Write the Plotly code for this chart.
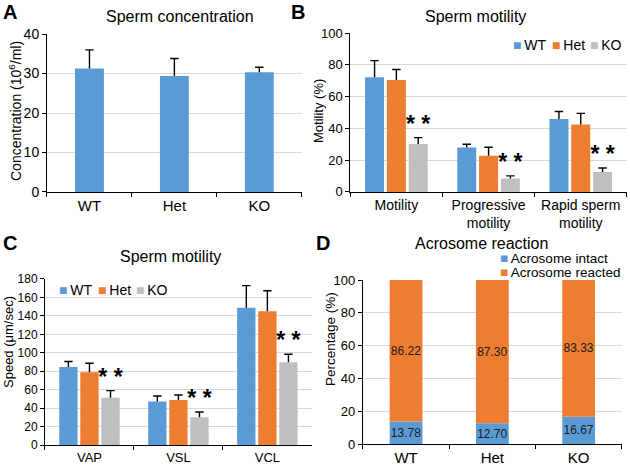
import plotly.graph_objects as go

# ---------------- data ----------------
groups = ["WT", "Het", "KO"]

conc_mean = [31.3, 29.4, 30.3]
conc_err = [4.7, 4.4, 1.3]

motility_cats = ["Motility", "Progressive<br>motility", "Rapid sperm<br>motility"]
motility_wt = [72.2, 28.0, 46.0]
motility_wt_err = [10.5, 2.0, 4.7]
motility_het = [70.5, 22.8, 42.5]
motility_het_err = [6.6, 5.3, 7.0]
motility_ko = [30.2, 8.4, 12.6]
motility_ko_err = [4.0, 1.7, 2.5]
motility_sig = ["* *", "* *", "* *"]

speed_cats = ["VAP", "VSL", "VCL"]
speed_wt = [84.5, 47.1, 148.9]
speed_wt_err = [6.1, 6.1, 23.9]
speed_het = [79.0, 48.9, 144.9]
speed_het_err = [9.7, 5.4, 22.4]
speed_ko = [51.4, 30.1, 89.8]
speed_ko_err = [7.6, 5.8, 8.7]
speed_sig = ["* *", "* *", "* *"]

acro_cats = ["WT", "Het", "KO"]
acro_series = ["Acrosome intact", "Acrosome reacted"]
acro_intact = [13.78, 12.70, 16.67]
acro_reacted = [86.22, 87.30, 83.33]

# ---------------- style ----------------
FONT = "Arial, 'Liberation Sans', sans-serif"
COLORS = {"WT": "#5B9BD5", "Het": "#ED7D31", "KO": "#BFBFBF"}
ACRO_COLORS = ["#5B9BD5", "#ED7D31"]
ERR_W = 1.4

fig = go.Figure()


def add_bar(x, y, err, color, xa, ya, name, group=None, width=None):
    fig.add_trace(go.Bar(
        x=x, y=y, name=name, width=width, offsetgroup=group,
        marker=dict(color=color, line=dict(width=0)),
        xaxis=xa, yaxis=ya, showlegend=False, hoverinfo="skip",
        error_y=dict(type="data", array=err, arrayminus=[0] * len(err),
                     symmetric=False, color="black", thickness=ERR_W, width=0),
    ))
    tops = [a + b for a, b in zip(y, err)]
    fig.add_trace(go.Scatter(
        x=x, y=tops, mode="markers", offsetgroup=group,
        marker=dict(symbol="line-ew", size=6, color="black",
                    line=dict(color="black", width=ERR_W)),
        xaxis=xa, yaxis=ya, showlegend=False, hoverinfo="skip",
    ))
    return tops


def add_stars(x, tops, sig, xa, ya):
    fig.add_trace(go.Scatter(x=x, y=tops, mode="text", text=[f"<b>{s}</b>" for s in sig],
                             textposition="top center", offsetgroup="KO",
                             textfont=dict(size=23, color="black", family=FONT),
                             xaxis=xa, yaxis=ya, showlegend=False, hoverinfo="skip"))


# Panel A
add_bar(groups, conc_mean, conc_err, COLORS["WT"], "x", "y", "Concentration", width=0.34)

# Panel B
add_bar(motility_cats, motility_wt, motility_wt_err, COLORS["WT"], "x2", "y2", "WT", "WT")
add_bar(motility_cats, motility_het, motility_het_err, COLORS["Het"], "x2", "y2", "Het", "Het")
ko_tops_b = add_bar(motility_cats, motility_ko, motility_ko_err, COLORS["KO"], "x2", "y2", "KO", "KO")
add_stars(motility_cats, ko_tops_b, motility_sig, "x2", "y2")

# Panel C
add_bar(speed_cats, speed_wt, speed_wt_err, COLORS["WT"], "x3", "y3", "WT", "WT")
add_bar(speed_cats, speed_het, speed_het_err, COLORS["Het"], "x3", "y3", "Het", "Het")
ko_tops_c = add_bar(speed_cats, speed_ko, speed_ko_err, COLORS["KO"], "x3", "y3", "KO", "KO")
add_stars(speed_cats, ko_tops_c, speed_sig, "x3", "y3")

# Panel D (stacked)
for vals, base, name, color in [(acro_intact, None, acro_series[0], ACRO_COLORS[0]),
                                (acro_reacted, acro_intact, acro_series[1], ACRO_COLORS[1])]:
    fig.add_trace(go.Bar(x=acro_cats, y=vals, base=base, name=name, offsetgroup="acro", width=0.38,
                         marker=dict(color=color, line=dict(width=0)),
                         text=[f"{v:.2f}" for v in vals], textposition="inside", textangle=0,
                         insidetextanchor="middle", constraintext="none",
                         textfont=dict(size=12, color="#1a1a1a", family=FONT),
                         xaxis="x4", yaxis="y4", showlegend=False, hoverinfo="skip"))


def yaxis(domain, xa, rng, dtick, tsize):
    return dict(domain=domain, anchor=xa, range=rng, dtick=dtick, showline=True,
                linecolor="black", linewidth=1, ticks="outside", ticklen=4,
                tickcolor="black", showgrid=True, gridcolor="#D9D9D9", gridwidth=1,
                zeroline=False, automargin=False,
                tickfont=dict(size=tsize, color="black", family=FONT))


def xaxis(domain, ya, tsize):
    return dict(domain=domain, anchor=ya, type="category", showline=True,
                linecolor="black", linewidth=1, ticks="outside", ticklen=4,
                tickcolor="black", tickson="boundaries", showgrid=False,
                zeroline=False, automargin=False,
                tickfont=dict(size=tsize, color="black", family=FONT))


W, H = 630, 467


def px(x):
    return x / W


def py(y):
    return 1 - y / H


annotations = []


def text_ann(txt, x, y, size, xanchor="center", bold=False, angle=0):
    annotations.append(dict(text=f"<b>{txt}</b>" if bold else txt, x=px(x), y=py(y),
                            xref="paper", yref="paper", xanchor=xanchor, yanchor="middle",
                            textangle=angle, showarrow=False,
                            font=dict(size=size, color="black", family=FONT)))


# panel letters
text_ann("A", 1, 12, 20, "left", True)
text_ann("B", 289, 12, 20, "left", True)
text_ann("C", 1, 243, 20, "left", True)
text_ann("D", 314, 243, 20, "left", True)

# titles
text_ann("Sperm concentration", 180, 16, 16)
text_ann("Sperm motility", 475, 16, 16)
text_ann("Sperm motility", 170, 256, 16)
text_ann("Acrosome reaction", 482, 243, 16)

# y-axis titles
text_ann("Concentration (10<sup>6</sup>/ml)", 15, 111, 14, angle=-90)
text_ann("Motility (%)", 318, 111, 13, angle=-90)
text_ann("Speed (μm/sec)", 8, 342, 13, angle=-90)
text_ann("Percentage (%)", 330, 339, 13.5, angle=-90)


def legend_item(name, color, x, y, size=14):
    annotations.append(dict(text=f"<span style='color:{color}'>■</span>&#8201;{name}",
                            x=px(x), y=py(y), xref="paper", yref="paper",
                            xanchor="left", yanchor="middle", showarrow=False,
                            font=dict(size=size, color="black", family=FONT)))


for g, xb in zip(groups, [511, 550, 588]):
    legend_item(g, COLORS[g], xb, 45)
for g, xc in zip(groups, [57, 96, 134]):
    legend_item(g, COLORS[g], xc, 290)
for s, c, yd in zip(acro_series, ACRO_COLORS, [258, 272]):
    legend_item(s, c, 498, yd, 13.5)

fig.update_layout(
    width=W, height=H, margin=dict(l=0, r=0, t=0, b=0),
    template="none", paper_bgcolor="white", plot_bgcolor="white",
    barmode="group", bargap=0.29, bargroupgap=0.13,
    scattermode="group", scattergap=0.29,
    showlegend=False,
    font=dict(family=FONT, color="black"),
    xaxis=xaxis([0.0746, 0.479], "y", 15),
    yaxis=yaxis([0.589, 0.927], "x", [0, 40], 10, 14),
    xaxis2=xaxis([0.556, 0.995], "y2", 14),
    yaxis2=yaxis([0.589, 0.929], "x2", [0, 100], 20, 13),
    xaxis3=xaxis([0.0714, 0.495], "y3", 13),
    yaxis3=yaxis([0.047, 0.4026], "x3", [0, 180], 20, 12),
    xaxis4=xaxis([0.576, 0.987], "y4", 15),
    yaxis4=yaxis([0.049, 0.4004], "x4", [0, 100], 20, 13),
    annotations=annotations,
)

fig.write_html("out.html", config={"displayModeBar": False},
               post_script="document.body.style.margin='0';")
